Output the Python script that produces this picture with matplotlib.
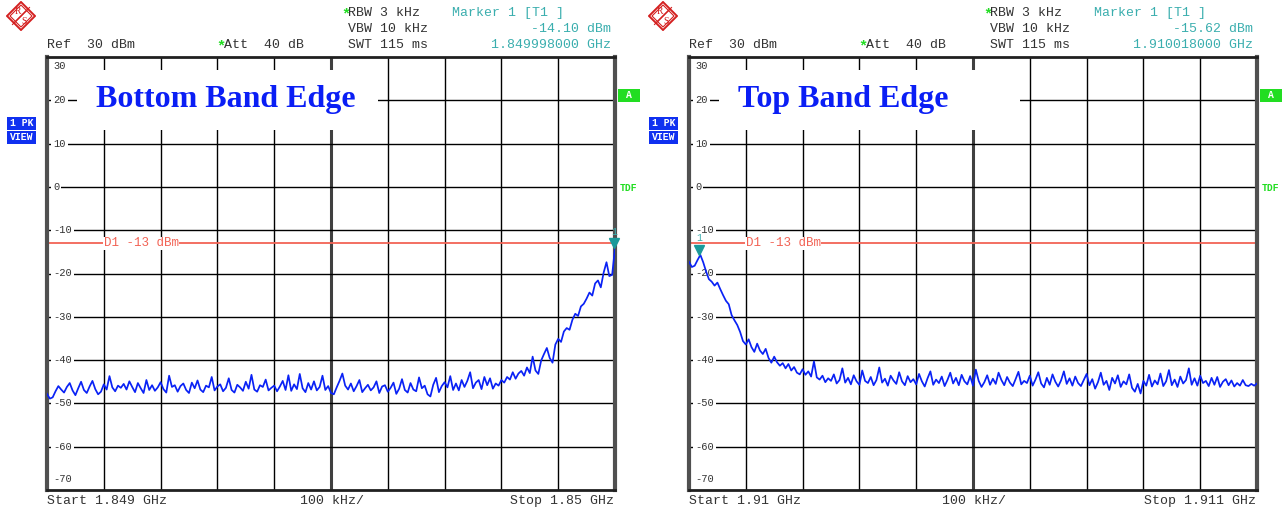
import numpy as np
import matplotlib
matplotlib.use('Agg')
import matplotlib.pyplot as plt
from matplotlib.patches import Rectangle, Polygon
from matplotlib.transforms import blended_transform_factory, offset_copy

MONO = 'Liberation Mono'
SERIF = 'Liberation Serif'

# grid levels / labels (dBm)
y_levels = [20, 10, 0, -10, -20, -30, -40, -50, -60]
y_labels = ['20', '10', '0', '-10', '-20', '-30', '-40', '-50', '-60']
n_div = 10
limit_db = -13

# trace (Bottom Band Edge), 201 sweep points
bottom_vals = [
    -47.8, -48.9, -48.6, -47.2, -46.0, -46.8, -47.5, -46.2, -45.3, -47.0, -48.1, -46.5, -45.0, -46.9, -47.6, -46.1, -44.8, -46.7, -47.9, -47.3,
    -45.6, -46.8, -43.7, -46.3, -47.2, -45.9, -46.4, -45.5, -46.8, -44.9, -46.2, -47.4, -45.3, -46.5, -47.6, -44.6, -46.9, -45.8, -47.1, -46.3,
    -45.1, -46.7, -47.5, -43.6, -46.2, -45.8, -47.3, -46.0, -45.4, -46.9, -47.6, -45.2, -46.5, -44.7, -46.8, -47.4, -45.9, -46.3, -43.9, -47.0,
    -46.1, -45.6, -47.2, -46.4, -44.2, -46.9, -47.5, -45.7, -46.3, -47.1, -45.0, -46.6, -43.4, -46.8, -47.3, -45.8, -46.2, -44.5, -47.0, -46.4,
    -45.9, -47.2, -46.1, -44.8, -46.9, -43.5, -47.1, -45.6, -46.7, -43.2, -46.5, -47.4, -45.3, -46.8, -44.9, -47.0, -46.2, -43.6, -46.9, -46.0,
    -47.6, -47.9, -46.3, -44.8, -43.1, -45.9, -46.8, -45.4, -47.2, -46.0, -44.6, -47.4, -46.5, -45.7, -47.0, -46.3, -44.9, -47.6, -46.1, -45.8,
    -47.3, -46.4, -45.2, -47.8, -46.6, -44.4, -46.9, -47.5, -45.3, -46.8, -47.2, -44.0, -46.5, -45.9, -47.9, -48.4, -45.7, -44.1, -47.4, -46.0,
    -45.1, -46.3, -43.7, -46.9, -45.4, -47.0, -44.6, -46.2, -44.8, -42.8, -46.5, -45.2, -44.6, -46.7, -43.9, -45.8, -44.2, -46.6, -45.4, -45.9,
    -44.6, -45.2, -43.9, -44.5, -42.8, -44.3, -43.1, -42.5, -43.6, -41.7, -43.0, -39.2, -42.4, -43.2, -40.1, -38.6, -37.2, -39.5, -40.6, -36.4,
    -35.1, -35.8, -33.4, -32.6, -33.0, -30.7, -29.3, -29.8, -27.6, -27.0, -25.8, -24.4, -25.1, -22.3, -21.6, -23.2, -19.8, -17.4, -20.6, -20.3,
    -14.1,
]

# trace (Top Band Edge)
top_vals = [
    -17.3, -18.5, -18.2, -16.9, -15.7, -17.4, -19.5, -21.3, -21.9, -22.8, -22.1, -23.6, -25.0, -26.3, -27.1, -29.6, -30.8, -31.9, -33.5, -35.6,
    -36.4, -35.2, -37.0, -38.1, -36.2, -37.8, -38.6, -37.4, -39.5, -40.6, -39.2, -40.5, -41.3, -40.7, -41.9, -40.9, -42.4, -41.6, -42.9, -43.3,
    -42.1, -43.4, -42.6, -43.8, -40.3, -44.0, -44.5, -43.6, -45.1, -44.2, -44.8, -43.3, -45.4, -44.6, -41.9, -45.2, -44.1, -45.6, -43.5, -44.9,
    -45.7, -42.4, -44.8, -45.3, -43.9, -45.8, -44.6, -41.7, -45.2, -44.3, -45.9, -43.6, -44.7, -45.5, -42.8, -44.9, -45.8, -43.7, -45.1, -44.4,
    -45.6, -43.2, -44.9, -46.1, -44.2, -42.6, -45.7, -44.5, -45.3, -43.8, -46.0, -44.6, -42.9, -45.4, -44.1, -45.8, -43.4, -44.9, -45.6, -43.7,
    -45.9, -42.2, -44.8, -46.2, -45.1, -43.5, -45.7, -44.3, -45.5, -42.9, -44.6, -45.8, -43.9, -45.2, -46.0, -44.4, -42.7, -45.6, -44.8, -45.3,
    -43.6, -45.9, -44.5, -42.8, -45.4, -46.3, -44.1, -45.7, -43.3, -45.0, -46.1, -44.7, -42.6, -45.5, -44.2, -45.9, -43.8, -45.3, -46.0, -44.6,
    -43.2, -45.8, -44.4, -46.6, -45.1, -42.9, -45.7, -44.8, -46.9, -44.1, -45.4, -43.5, -46.2, -44.9, -45.6, -43.3, -46.4, -47.3, -45.5, -47.7,
    -44.8, -45.9, -43.4, -46.1, -44.7, -45.6, -43.1, -46.0, -44.9, -42.3, -45.8, -44.5, -46.2, -43.8, -45.4, -44.6, -41.9, -45.7, -44.2, -45.9,
    -43.6, -45.3, -44.8, -46.0, -44.1, -45.7, -43.9, -46.2, -45.0, -44.4, -45.8, -44.7, -46.1, -45.3, -45.9, -44.6, -45.8, -46.0, -45.5, -45.9,
    -45.4,
]

panels = [
    dict(title='Bottom Band Edge', start=1.849, stop=1.850, vals=bottom_vals,
         start_txt='Start 1.849 GHz', stop_txt='Stop 1.85 GHz',
         mk_f=1.849998, mk_v=-14.10, mk_lvl='-14.10 dBm', mk_frq='1.849998000 GHz', dx=0),
    dict(title='Top Band Edge', start=1.910, stop=1.911, vals=top_vals,
         start_txt='Start 1.91 GHz', stop_txt='Stop 1.911 GHz',
         mk_f=1.910018, mk_v=-15.62, mk_lvl='-15.62 dBm', mk_frq='1.910018000 GHz', dx=642),
]

W, H = 1286, 514
fig = plt.figure(figsize=(W / 100, H / 100), dpi=100)
fig.patch.set_facecolor('white')


def fx(x):
    return x / W


def fy(y):
    return 1 - y / H


txt_col = '#333333'
teal = '#3aaeae'
green = '#22dd22'
trace_col = '#0a22f5'

for p in panels:
    dx = p['dx']
    ax = fig.add_axes([fx(47 + dx), fy(490), 568 / W, 433 / H])
    ax.set_xlim(p['start'], p['stop'])
    ax.set_ylim(-70, 30)
    ax.set_xticks([])
    ax.set_yticks([])
    for s in ['left', 'right']:
        ax.spines[s].set_linewidth(3)
        ax.spines[s].set_color('#505050')
    for s in ['top', 'bottom']:
        ax.spines[s].set_linewidth(2)
        ax.spines[s].set_color('#202020')

    # grid
    divs = np.linspace(p['start'], p['stop'], n_div + 1)[1:-1]
    for i, d in enumerate(divs):
        if i == 4:
            ax.axvline(d, color='#404040', lw=2.2, zorder=1)
        else:
            ax.axvline(d, color='black', lw=1, zorder=1)
    ytf = blended_transform_factory(ax.transAxes, ax.transData)
    for lv, lab in zip(y_levels, y_labels):
        ax.axhline(lv, color='black', lw=1, zorder=1)
        ax.text(0.0106, lv, lab, transform=ytf, ha='left', va='center',
                fontsize=7.5, family=MONO, color=txt_col, zorder=4,
                bbox=dict(boxstyle='square,pad=0.2', fc='white', ec='none'))
    ax.text(0.0106, 0.979, '30', transform=ax.transAxes, ha='left', va='center',
            fontsize=7.5, family=MONO, color=txt_col)
    ax.text(0.0106, 0.025, '-70', transform=ax.transAxes, ha='left', va='center',
            fontsize=7.5, family=MONO, color=txt_col)

    # title box
    ax.add_patch(Rectangle((0.0528, 0.831), 0.53, 0.139, transform=ax.transAxes,
                           fc='white', ec='none', zorder=3))
    ax.text(0.0863, 0.903, p['title'], transform=ax.transAxes, ha='left', va='center',
            fontsize=23, family=SERIF, fontweight='bold', color='#0a1ef5', zorder=4)

    # display line D1
    ax.axhline(limit_db, color='#f26355', lw=1.3, zorder=2)
    ax.text(0.1, limit_db, 'D1 -13 dBm', transform=ytf, ha='left', va='center',
            fontsize=9, family=MONO, color='#f26355', zorder=4,
            bbox=dict(boxstyle='square,pad=0.05', fc='white', ec='none'))

    # trace
    freqs = np.linspace(p['start'], p['stop'], len(p['vals']))
    ax.plot(freqs, p['vals'], color=trace_col, lw=1.25, zorder=5)

    # marker 1
    mtr = offset_copy(ax.transData, fig=fig, y=3.5, units='points')
    ax.plot([p['mk_f']], [p['mk_v']], marker='v', ms=7, color='#1a9a9a',
            transform=mtr, zorder=6, clip_on=False)
    ax.text(p['mk_f'], p['mk_v'], '1', transform=offset_copy(ax.transData, fig=fig, y=8, units='points'),
            ha='center', va='bottom', fontsize=7, family=MONO, color=teal, zorder=6)

    # header
    fig.text(fx(341 + dx), fy(14), '*', color=green, fontsize=11, family=MONO,
             fontweight='bold', ha='left', va='center')
    fig.text(fx(348 + dx), fy(13), 'RBW 3 kHz', color=txt_col, fontsize=9.5, family=MONO, va='center')
    fig.text(fx(348 + dx), fy(29), 'VBW 10 kHz', color=txt_col, fontsize=9.5, family=MONO, va='center')
    fig.text(fx(348 + dx), fy(45), 'SWT 115 ms', color=txt_col, fontsize=9.5, family=MONO, va='center')
    fig.text(fx(47 + dx), fy(45), 'Ref  30 dBm', color=txt_col, fontsize=9.5, family=MONO, va='center')
    fig.text(fx(216 + dx), fy(46), '*', color=green, fontsize=11, family=MONO,
             fontweight='bold', va='center')
    fig.text(fx(224 + dx), fy(45), 'Att  40 dB', color=txt_col, fontsize=9.5, family=MONO, va='center')
    fig.text(fx(452 + dx), fy(13), 'Marker 1 [T1 ]', color=teal, fontsize=9.5, family=MONO, va='center')
    fig.text(fx(611 + dx), fy(29), p['mk_lvl'], color=teal, fontsize=9.5, family=MONO, va='center', ha='right')
    fig.text(fx(611 + dx), fy(45), p['mk_frq'], color=teal, fontsize=9.5, family=MONO, va='center', ha='right')

    # footer
    fig.text(fx(47 + dx), fy(501), p['start_txt'], color=txt_col, fontsize=9.5, family=MONO, va='center')
    fig.text(fx(300 + dx), fy(501), '100 kHz/', color=txt_col, fontsize=9.5, family=MONO, va='center')
    fig.text(fx(614 + dx), fy(501), p['stop_txt'], color=txt_col, fontsize=9.5, family=MONO, va='center', ha='right')

    # side labels
    fig.add_artist(Rectangle((fx(7 + dx), fy(130)), 29 / W, 13 / H, transform=fig.transFigure,
                             fc='#1030f0', ec='none'))
    fig.add_artist(Rectangle((fx(7 + dx), fy(144)), 29 / W, 13 / H, transform=fig.transFigure,
                             fc='#1030f0', ec='none'))
    fig.text(fx(21.5 + dx), fy(123.5), '1 PK', color='white', fontsize=7, family=MONO,
             fontweight='bold', ha='center', va='center')
    fig.text(fx(21.5 + dx), fy(137.5), 'VIEW', color='white', fontsize=7, family=MONO,
             fontweight='bold', ha='center', va='center')
    fig.add_artist(Rectangle((fx(618 + dx), fy(102)), 22 / W, 13 / H, transform=fig.transFigure,
                             fc=green, ec='none'))
    fig.text(fx(629 + dx), fy(95.5), 'A', color='white', fontsize=7, family=MONO,
             fontweight='bold', ha='center', va='center')
    fig.text(fx(620 + dx), fy(188), 'TDF', color=green, fontsize=7, family=MONO,
             fontweight='bold', ha='left', va='center')

    # R&S logo
    lax = fig.add_axes([fx(6 + dx), fy(31), 30 / W, 30 / H])
    lax.set_xlim(0, 30)
    lax.set_ylim(30, 0)
    lax.axis('off')
    lax.add_patch(Polygon([(15, 1), (29, 15), (15, 29), (1, 15)], closed=True,
                          fc='white', ec='#d42020', lw=1.4))
    lax.add_patch(Polygon([(15, 4), (26, 15), (15, 26), (4, 15)], closed=True,
                          fc='none', ec='#d42020', lw=0.8))
    for off in [-1.5, 0, 1.5]:
        lax.plot([8 + off, 22 + off], [22 - off, 8 - off], color='#d42020', lw=0.8)
    lax.text(12, 11, 'R', color='#d42020', fontsize=7, family=SERIF, ha='center', va='center')
    lax.text(18, 20, 'S', color='#d42020', fontsize=7, family=SERIF, ha='center', va='center')

fig.savefig('out.png', dpi=100, facecolor='white')
